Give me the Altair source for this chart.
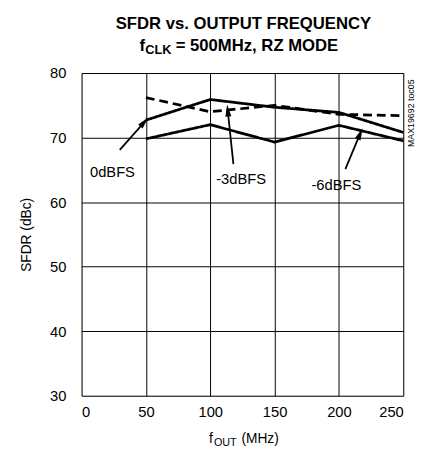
import math
import altair as alt
import pandas as pd

# ---- data ----
freq = [50, 100, 150, 200, 250]
sfdr_0dbfs = [72.7, 75.9, 74.7, 73.9, 70.8]
sfdr_3dbfs = [76.2, 74.0, 75.0, 73.6, 73.4]
sfdr_6dbfs = [69.8, 72.0, 69.3, 71.9, 69.5]
series_names = ["0dBFS", "-3dBFS", "-6dBFS"]

label_x = [24, 124, 198]
label_y = [64.6, 63.5, 62.7]
arrow_tail_x = [29.7, 118.0, 205.0]
arrow_tail_y = [68.1, 65.9, 65.1]
arrow_head_x = [48.8, 113.6, 216.5]
arrow_head_y = [72.4, 74.2, 70.6]

W, H = 328, 329
XMAX, YMIN, YMAX = 250, 30, 80
FONT = "Liberation Sans Narrow, Arial Narrow, Liberation Sans, Arial, sans-serif"

rows = []
for name, vals in zip(series_names, [sfdr_0dbfs, sfdr_3dbfs, sfdr_6dbfs]):
    for f, v in zip(freq, vals):
        rows.append({"f": f, "sfdr": v, "series": name})
df = pd.DataFrame(rows)

def px(dx, dy):
    return dx * W / XMAX, -dy * H / (YMAX - YMIN)

arrows = pd.DataFrame({
    "x": arrow_tail_x, "y": arrow_tail_y,
    "x2": arrow_head_x, "y2": arrow_head_y,
    "angle": [
        (math.degrees(math.atan2(px(hx - tx, hy - ty)[0], -px(hx - tx, hy - ty)[1])) + 360) % 360
        for tx, ty, hx, hy in zip(arrow_tail_x, arrow_tail_y, arrow_head_x, arrow_head_y)
    ],
})
labels = pd.DataFrame({"x": label_x, "y": label_y, "text": series_names})

xs = alt.Scale(domain=[0, XMAX], nice=False)
ys = alt.Scale(domain=[YMIN, YMAX], nice=False)

base = alt.Chart(df).encode(
    x=alt.X("f:Q", scale=xs, axis=alt.Axis(
        values=[0, 50, 100, 150, 200, 250], title=None, grid=True, gridColor="black",
        gridWidth=1, gridOpacity=1, ticks=False, domain=False, labelFont=FONT,
        labelFontSize=15, labelColor="black", labelPadding=9)),
    y=alt.Y("sfdr:Q", scale=ys, axis=alt.Axis(
        values=[30, 40, 50, 60, 70, 80], title="SFDR (dBc)", grid=True, gridColor="black",
        gridWidth=1, gridOpacity=1, ticks=False, domain=False, labelFont=FONT,
        labelFontSize=15, labelColor="black", labelPadding=16, titleFont=FONT,
        titleFontSize=14, titleFontWeight="normal", titleColor="black", titlePadding=16)),
)

lines = base.mark_line(color="black", strokeWidth=2.8).encode(
    detail="series:N",
    strokeDash=alt.StrokeDash("series:N", scale=alt.Scale(
        domain=series_names, range=[[1, 0], [9, 5], [1, 0]]), legend=None),
)

arrow_lines = alt.Chart(arrows).mark_rule(color="black", strokeWidth=1.8).encode(
    x=alt.X("x:Q", scale=xs), y=alt.Y("y:Q", scale=ys), x2="x2:Q", y2="y2:Q")
arrow_heads = alt.Chart(arrows).mark_point(
    shape="M-0.5,1L0,-1L0.5,1Z", filled=True, color="black", opacity=1, size=150).encode(
    x=alt.X("x2:Q", scale=xs), y=alt.Y("y2:Q", scale=ys), angle=alt.Angle("angle:Q", scale=None))

label_text = alt.Chart(labels).mark_text(
    font=FONT, fontSize=15, color="black").encode(
    x=alt.X("x:Q", scale=xs), y=alt.Y("y:Q", scale=ys), text="text:N")

def txt(s, x, y, size, bold=False, align="left", angle=0):
    return alt.Chart(pd.DataFrame({"t": [s]})).mark_text(
        font=FONT, fontSize=size, fontWeight="bold" if bold else "normal",
        align=align, baseline="alphabetic", color="black", angle=angle).encode(
        text="t:N", x=alt.value(x), y=alt.value(y))

titles = [
    txt("SFDR vs. OUTPUT FREQUENCY", 165, -45, 17, bold=True, align="center"),
    txt("f", 59, -22, 17, bold=True),
    txt("CLK", 65, -19, 13, bold=True),
    txt("= 500MHz, RZ MODE", 96, -22, 17, bold=True),
    txt("f", 130, 377, 14),
    txt("OUT", 135, 380, 11),
    txt("(MHz)", 163, 377, 14),
    txt("MAX19692 toc05", 339, 41, 9, align="center", angle=270),
]

chart = alt.layer(lines, arrow_lines, arrow_heads, label_text, *titles).properties(
    width=W, height=H,
    autosize=alt.AutoSizeParams(type="none"),
    padding={"left": 75, "top": 62, "right": 14, "bottom": 50},
).configure_view(stroke="black", strokeWidth=3).configure(background="white")

chart.save("out.html", embed_options={"renderer": "svg", "actions": False})
